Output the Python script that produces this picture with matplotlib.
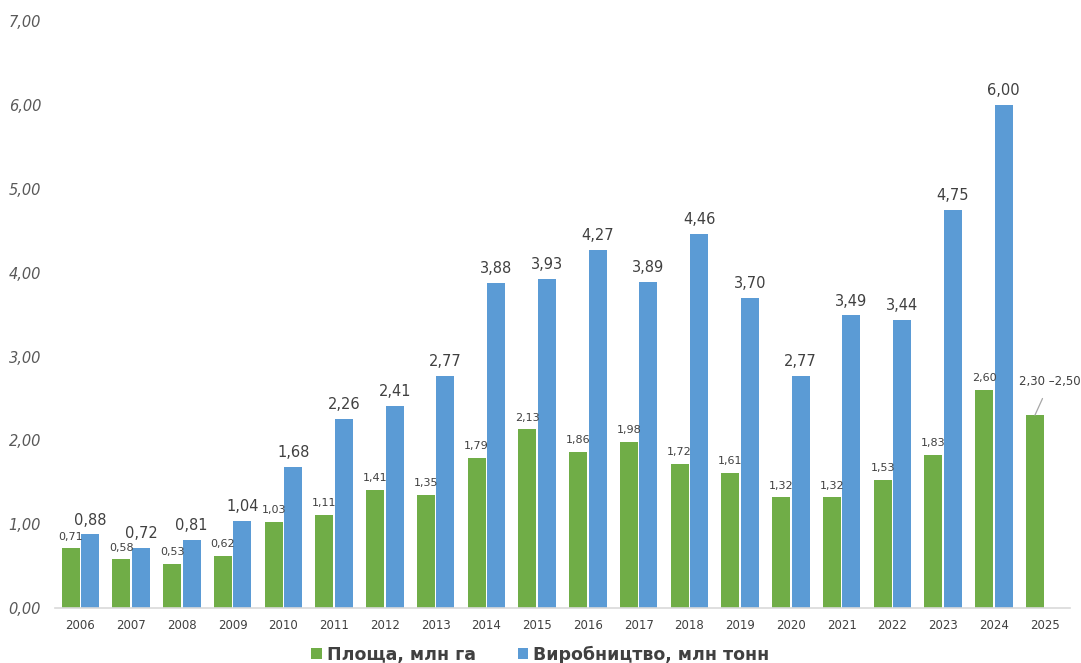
import numpy as np
import matplotlib.pyplot as plt

years = [str(y) for y in range(2006, 2026)]
area = [0.71, 0.58, 0.53, 0.62, 1.03, 1.11, 1.41, 1.35, 1.79, 2.13,
        1.86, 1.98, 1.72, 1.61, 1.32, 1.32, 1.53, 1.83, 2.60, 2.30]
prod = [0.88, 0.72, 0.81, 1.04, 1.68, 2.26, 2.41, 2.77, 3.88, 3.93,
        4.27, 3.89, 4.46, 3.70, 2.77, 3.49, 3.44, 4.75, 6.00, np.nan]
yticks = [0, 1, 2, 3, 4, 5, 6, 7]

green = '#70AD47'
blue = '#5B9BD5'

def fmt(v):
    return f'{v:.2f}'.replace('.', ',')

fig = plt.figure(figsize=(10.81, 6.63), dpi=100)
ax = fig.add_axes([0.0509, 0.083, 0.939, 0.885])

x = np.arange(len(years))
w = 0.355
gap = 0.03
b1 = ax.bar(x - w / 2 - gap / 2, area, w, color=green, label='Площа, млн га')
b2 = ax.bar(x + w / 2 + gap / 2, prod, w, color=blue, label='Виробництво, млн тонн')

for i, v in enumerate(area):
    if i == len(area) - 1:
        continue
    ax.text(x[i] - w / 2 - gap / 2, v + 0.08, fmt(v), ha='center', va='bottom',
            fontsize=8, color='#404040')
for i, v in enumerate(prod):
    if np.isnan(v):
        continue
    ax.text(x[i] + w / 2 + gap / 2, v + 0.08, fmt(v), ha='center', va='bottom',
            fontsize=10.5, color='#404040')

# 2025 range label with leader line
i = len(area) - 1
bx = x[i] - w / 2 - gap / 2
ax.annotate('2,30 –2,50', xy=(bx, area[i]), xytext=(bx + 0.3, area[i] + 0.4),
            ha='center', va='center', fontsize=8.5, color='#404040',
            arrowprops=dict(arrowstyle='-', color='#A6A6A6', lw=0.9,
                            shrinkA=6, shrinkB=0),
            annotation_clip=False)

ax.set_xlim(-0.5, len(years) - 0.5)
ax.set_ylim(0, 7)
ax.set_xticks(x)
ax.set_xticklabels(years, fontsize=8.5, color='#404040')
ax.set_yticks(yticks)
ax.set_yticklabels([fmt(t) for t in yticks], fontsize=10.5, color='#595959',
                   style='italic')
ax.tick_params(length=0, pad=8)
ax.tick_params(axis='y', pad=10)
for s in ['top', 'right', 'left']:
    ax.spines[s].set_visible(False)
ax.spines['bottom'].set_color('#D9D9D9')
ax.spines['bottom'].set_linewidth(1.2)

fig.legend(handles=[b1, b2], loc='lower center', bbox_to_anchor=(0.5, -0.025),
           ncol=2, frameon=False, handlelength=0.6, handleheight=0.6,
           handletextpad=0.3, columnspacing=2.4,
           prop={'size': 12.5, 'weight': 'bold'}, labelcolor='#404040')

fig.savefig('out.png', dpi=100)
